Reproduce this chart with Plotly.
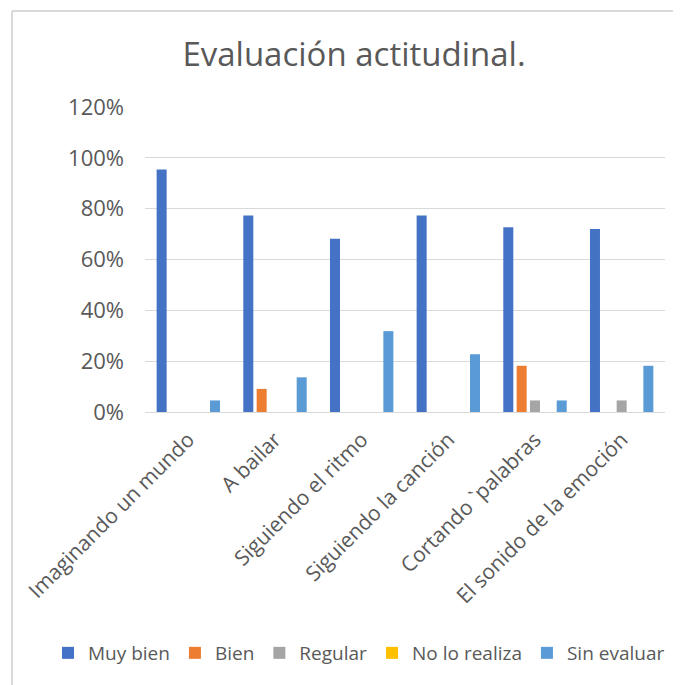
import plotly.graph_objects as go

# categories and series (share of students, %)
categories = [
    "Imaginando un mundo",
    "A bailar",
    "Siguiendo el ritmo",
    "Siguiendo la canción",
    "Cortando `palabras",
    "El sonido de la emoción",
]
muy_bien = [95.45, 77.27, 68.18, 77.27, 72.73, 72.0]
bien = [0, 9.09, 0, 0, 18.18, 0]
regular = [0, 0, 0, 0, 4.55, 4.55]
no_lo_realiza = [0, 0, 0, 0, 0, 0]
sin_evaluar = [4.55, 13.64, 31.82, 22.73, 4.55, 18.18]
y_ticks = [0, 20, 40, 60, 80, 100, 120]

series = [
    ("Muy bien", muy_bien, "#4472C4"),
    ("Bien", bien, "#ED7D31"),
    ("Regular", regular, "#A5A5A5"),
    ("No lo realiza", no_lo_realiza, "#FFC000"),
    ("Sin evaluar", sin_evaluar, "#5B9BD5"),
]

FONT = "Open Sans"
TEXT = "#595959"

# page has an 8px body margin, so the figure is a bit smaller than the window
W, H = 673, 677
# plot area in figure pixels (left, right, top, bottom)
PL, PR, PT, PB = 137, 657, 99, 404
PW, PH = PR - PL, PB - PT


def px_x(x):
    return (x - PL) / PW


def px_y(y):
    return (PB - y) / PH


fig = go.Figure()
for name, vals, color in series:
    fig.add_trace(go.Bar(
        x=categories,
        y=vals,
        name=name,
        marker=dict(color=color, line=dict(width=0)),
    ))

fig.update_layout(
    width=W, height=H,
    margin=dict(l=PL, r=W - PR, t=PT, b=H - PB, autoexpand=False),
    paper_bgcolor="white",
    plot_bgcolor="white",
    barmode="group",
    bargap=0.23,
    bargroupgap=0.25,
    font=dict(family=FONT, color=TEXT, size=20),
    title=dict(
        text="Evaluación actitudinal.",
        x=346 / W, xanchor="center",
        y=1 - 46 / H, yanchor="middle",
        font=dict(family=FONT, size=33, color=TEXT),
    ),
    legend=dict(
        orientation="h",
        x=px_x(40), xanchor="left",
        y=px_y(645), yanchor="middle",
        font=dict(family=FONT, size=19, color=TEXT),
        itemwidth=30,
        traceorder="normal",
    ),
    shapes=[
        dict(type="line", xref="paper", yref="paper",
             x0=px_x(4), x1=px_x(700), y0=px_y(3), y1=px_y(3),
             line=dict(color="#D9D9D9", width=2)),
        dict(type="line", xref="paper", yref="paper",
             x0=px_x(4), x1=px_x(4), y0=px_y(3), y1=px_y(700),
             line=dict(color="#D9D9D9", width=2)),
    ],
)

fig.update_yaxes(
    range=[0, 120],
    tickvals=y_ticks,
    ticktext=[f"{v}%" for v in y_ticks],
    showgrid=True, gridcolor="#D9D9D9", gridwidth=1,
    zeroline=False,
    showline=False,
    ticks="",
    ticklabelstandoff=20,
    tickfont=dict(family=FONT, size=22, color=TEXT),
)
fig.update_xaxes(
    tickangle=-45,
    showline=True, linecolor="#D9D9D9", linewidth=1,
    ticks="",
    ticklabelstandoff=6,
    tickfont=dict(family=FONT, size=21, color=TEXT),
)

fig.write_html("out.html")
